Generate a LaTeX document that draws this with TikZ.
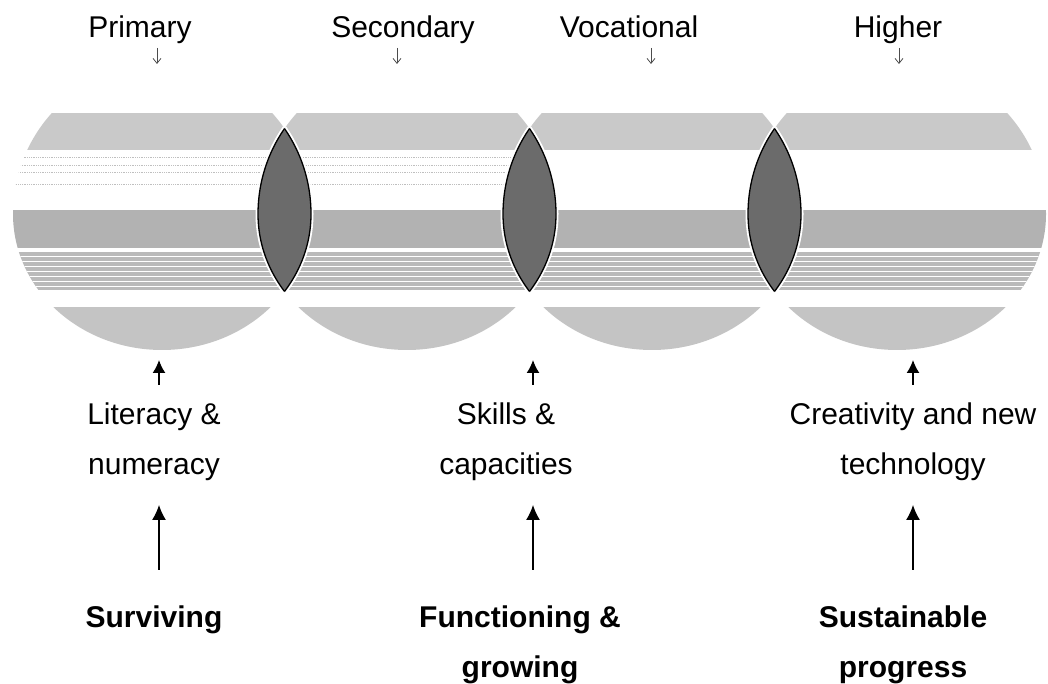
\documentclass[tikz,border=0pt]{standalone}
\usepackage{fontspec}
\setmainfont{Liberation Sans}
\usetikzlibrary{arrows.meta}
\tikzset{
  lbl/.style={font=\fontsize{30}{50}\selectfont, inner sep=0pt, align=center},
  blbl/.style={font=\fontsize{30}{50}\selectfont\bfseries, inner sep=0pt, align=center},
  smallarr/.style={-{Straight Barb[length=5pt,width=8pt]}, line width=0.8pt, black!70},
  shortarr/.style={-{Latex[length=13pt,width=13pt]}, line width=1.6pt},
  longarr/.style={-{Latex[length=15pt,width=14pt]}, line width=1.3pt},
  bandA/.style={fill=black!21},
  bandB/.style={fill=black!30},
  bandC/.style={fill=black!27},
  bandD/.style={fill=black!23},
  halo/.style={draw=white, line width=5pt},
  lensline/.style={draw=black, line width=1.3pt},
  lensfill/.style={fill=black!58},
}
\begin{document}
\begin{tikzpicture}[x=1pt,y=1pt]
\useasboundingbox (0,0) rectangle (1048,684);
% circles with horizontal bands
\foreach \cx/\faint in {162/1,407/1,652/0,897/0} {
  \begin{scope}
    \clip (\cx+149,470) arc[start angle=0,end angle=180,x radius=149pt,y radius=150pt]
                       arc[start angle=180,end angle=360,x radius=149pt,y radius=136pt] -- cycle;
    \fill[bandA] (\cx-160,534) rectangle (\cx+160,571);
    \ifnum\faint=1
      \foreach \yy in {527,519,512,500} {
        \draw[black!25, line width=0.8pt, densely dotted] (\cx-160,\yy) -- (\cx+160,\yy);
      }
    \fi
    \fill[bandB] (\cx-160,436) rectangle (\cx+160,474);
    \fill[bandC] (\cx-160,394) rectangle (\cx+160,432);
    \foreach \yy in {398,403,...,430} {
      \draw[white, line width=0.8pt] (\cx-160,\yy) -- (\cx+160,\yy);
    }
    \fill[bandD] (\cx-160,334) rectangle (\cx+160,377);
  \end{scope}
}
% lenses where circles overlap
\foreach \a/\b in {162/407,407/652,652/897} {
  \begin{scope}
    \clip (\a+149,470) arc[start angle=0,end angle=180,x radius=149pt,y radius=150pt]
                      arc[start angle=180,end angle=360,x radius=149pt,y radius=136pt] -- cycle;
    \path[halo] (\b+149,470) arc[start angle=0,end angle=180,x radius=149pt,y radius=150pt]
                      arc[start angle=180,end angle=360,x radius=149pt,y radius=136pt] -- cycle;
  \end{scope}
  \begin{scope}
    \clip (\b+149,470) arc[start angle=0,end angle=180,x radius=149pt,y radius=150pt]
                      arc[start angle=180,end angle=360,x radius=149pt,y radius=136pt] -- cycle;
    \path[halo] (\a+149,470) arc[start angle=0,end angle=180,x radius=149pt,y radius=150pt]
                      arc[start angle=180,end angle=360,x radius=149pt,y radius=136pt] -- cycle;
  \end{scope}
  \begin{scope}
    \clip (\a+149,470) arc[start angle=0,end angle=180,x radius=149pt,y radius=150pt]
                      arc[start angle=180,end angle=360,x radius=149pt,y radius=136pt] -- cycle;
    \path[lensfill] (\b+149,470) arc[start angle=0,end angle=180,x radius=149pt,y radius=150pt]
                      arc[start angle=180,end angle=360,x radius=149pt,y radius=136pt] -- cycle;
    \path[lensline] (\b+149,470) arc[start angle=0,end angle=180,x radius=149pt,y radius=150pt]
                      arc[start angle=180,end angle=360,x radius=149pt,y radius=136pt] -- cycle;
  \end{scope}
  \begin{scope}
    \clip (\b+149,470) arc[start angle=0,end angle=180,x radius=149pt,y radius=150pt]
                      arc[start angle=180,end angle=360,x radius=149pt,y radius=136pt] -- cycle;
    \path[lensline] (\a+149,470) arc[start angle=0,end angle=180,x radius=149pt,y radius=150pt]
                      arc[start angle=180,end angle=360,x radius=149pt,y radius=136pt] -- cycle;
  \end{scope}
}
% top labels
\node[lbl, anchor=base] (prim) at (140,646) {Primary};
\node[lbl, anchor=base] (sec)  at (403,646) {Secondary};
\node[lbl, anchor=base] (voc)  at (629,646) {Vocational};
\node[lbl, anchor=base] (high) at (898,646) {Higher};
\coordinate (p1) at (157,636); \coordinate (p2) at (157,620);
\coordinate (s1) at (397,636); \coordinate (s2) at (397,620);
\coordinate (v1) at (651,636); \coordinate (v2) at (651,620);
\coordinate (h1) at (899,636); \coordinate (h2) at (899,620);
\draw[smallarr] (p1) -- (p2);
\draw[smallarr] (s1) -- (s2);
\draw[smallarr] (v1) -- (v2);
\draw[smallarr] (h1) -- (h2);
% middle labels (base = baseline of last line)
\node[lbl, anchor=base] (lit) at (154,209) {Literacy \&\\numeracy};
\node[lbl, anchor=base] (ski) at (506,209) {Skills \&\\capacities};
\node[lbl, anchor=base] (cre) at (913,209) {Creativity and new\\technology};
\coordinate (la) at (159,299); \coordinate (lb) at (159,324);
\coordinate (sa) at (533,299); \coordinate (sb) at (533,324);
\coordinate (ca) at (913,299); \coordinate (cb) at (913,324);
\draw[shortarr] (la) -- (lb);
\draw[shortarr] (sa) -- (sb);
\draw[shortarr] (ca) -- (cb);
% bottom labels
\node[blbl, anchor=base] (sur) at (154,56) {Surviving};
\node[blbl, anchor=base] (fun) at (520,6) {Functioning \&\\growing};
\node[blbl, anchor=base] (sus) at (903,6) {Sustainable\\progress};
\coordinate (ua) at (159,114); \coordinate (ub) at (159,179);
\coordinate (fa) at (533,114); \coordinate (fb) at (533,179);
\coordinate (ta) at (913,114); \coordinate (tb) at (913,179);
\draw[longarr] (ua) -- (ub);
\draw[longarr] (fa) -- (fb);
\draw[longarr] (ta) -- (tb);
\end{tikzpicture}
\end{document}
